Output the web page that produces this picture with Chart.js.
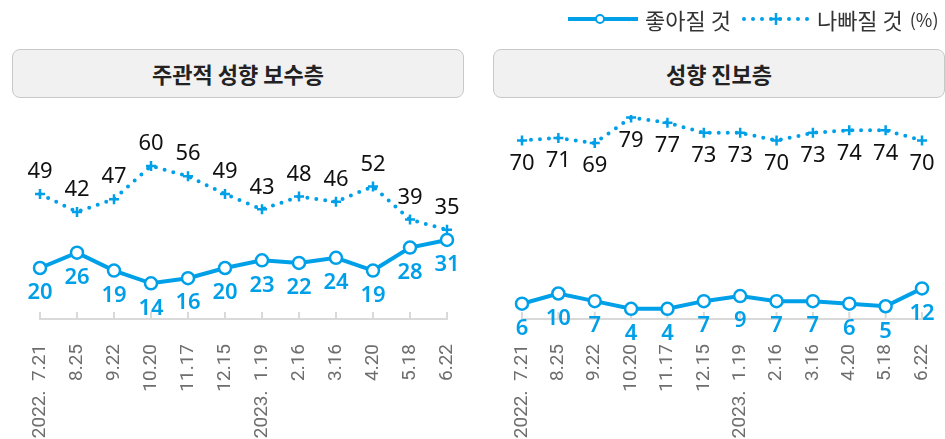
<!DOCTYPE html>
<html>
<head>
<meta charset="utf-8">
<style>
  body { margin: 0; background: #fff; width: 945px; height: 439px; position: relative; overflow: hidden; font-family: "Noto Sans CJK KR", "Noto Sans", sans-serif; }
  canvas { position: absolute; top: 0; }
  .head { position: absolute; top: 49px; height: 47px; border: 1px solid #c8c8c8; border-radius: 8px; background: #f1f1f1;
          font-weight: bold; font-size: 22px; color: #222; text-align: center; line-height: 46px; z-index: 2; }
  .legend { position: absolute; top: 3px; left: 567px; height: 32px; display: flex; align-items: center; color: #333; font-size: 22px; z-index: 2; white-space: nowrap; }
  .legend svg { display: block; margin-right: 6px; }
  .legend .pct { font-size: 18px; margin-left: 7px; }
</style>
</head>
<body>
<div class="legend">
  <svg width="72" height="14"><line x1="1" y1="7" x2="71" y2="7" stroke="#00a0e9" stroke-width="4"/><circle cx="33" cy="7" r="4" fill="#fff" stroke="#00a0e9" stroke-width="2"/></svg>
  <span>좋아질 것</span>
  <svg width="70" height="14" style="margin-left:10px"><line x1="3" y1="7" x2="68" y2="7" stroke="#00a0e9" stroke-width="4" stroke-dasharray="0 9" stroke-linecap="round"/><path d="M29 7 H41 M35 1 V13" stroke="#00a0e9" stroke-width="2.5"/></svg>
  <span>나빠질 것</span><span class="pct">(%)</span>
</div>
<div class="head" style="left:12px;width:450px">주관적 성향 보수층</div>
<div class="head" style="left:493px;width:450px">성향 진보층</div>
<canvas id="chart_cons" width="472" height="439" style="left:0"></canvas>
<canvas id="chart_prog" width="470" height="439" style="left:475px"></canvas>

<script src="https://cdn.jsdelivr.net/npm/chart.js"></script>
<script>
    const dates = ['2022.  7.21', '8.25', '9.22', '10.20', '11.17', '12.15', '2023.  1.19', '2.16', '3.16', '4.20', '5.18', '6.22'];

    // 주관적 성향 보수층
    const cons_better = [20, 26, 19, 14, 16, 20, 23, 22, 24, 19, 28, 31];
    const cons_worse = [49, 42, 47, 60, 56, 49, 43, 48, 46, 52, 39, 35];

    // 성향 진보층
    const prog_better = [6, 10, 7, 4, 4, 7, 9, 7, 7, 6, 5, 12];
    const prog_worse = [70, 71, 69, 79, 77, 73, 73, 70, 73, 74, 74, 70];

    const blue = '#00a0e9';

    const pointLabels = {
        id: 'pointLabels',
        afterDatasetsDraw(chart) {
            const ctx = chart.ctx;
            chart.data.datasets.forEach((ds, i) => {
                const meta = chart.getDatasetMeta(i);
                ctx.save();
                ctx.font = ds.labelFont;
                ctx.fillStyle = ds.labelColor;
                ctx.textAlign = 'center';
                ctx.textBaseline = 'middle';
                meta.data.forEach((pt, j) => {
                    ctx.fillText(ds.data[j], pt.x, pt.y + ds.labelOffset);
                });
                ctx.restore();
            });
        }
    };

    // small tick marks pointing up from the axis line
    const upTicks = {
        id: 'upTicks',
        beforeDatasetsDraw(chart) {
            const ctx = chart.ctx;
            const x = chart.scales.x;
            ctx.save();
            ctx.strokeStyle = '#d9d9d9';
            ctx.lineWidth = 2;
            x.ticks.forEach((t, i) => {
                const px = x.getPixelForTick(i);
                ctx.beginPath();
                ctx.moveTo(px, x.top);
                ctx.lineTo(px, x.top - 7);
                ctx.stroke();
            });
            ctx.restore();
        }
    };

    function makeChart(id, better, worse, padLeft, padRight, worseOffset) {
        return new Chart(document.getElementById(id), {
            type: 'line',
            data: {
                labels: dates,
                datasets: [{
                    label: '좋아질 것',
                    data: better,
                    borderColor: blue,
                    borderWidth: 4,
                    pointStyle: 'circle',
                    pointRadius: 6,
                    pointBorderWidth: 2.5,
                    pointBackgroundColor: '#fff',
                    pointBorderColor: blue,
                    labelFont: '600 22px "Noto Sans"',
                    labelColor: blue,
                    labelOffset: 25,
                }, {
                    label: '나빠질 것',
                    data: worse,
                    borderColor: blue,
                    borderWidth: 4,
                    borderDash: [0, 9],
                    borderCapStyle: 'round',
                    pointStyle: 'cross',
                    pointRadius: 5,
                    pointBorderWidth: 2.5,
                    pointBorderColor: blue,
                    labelFont: '22px "Noto Sans"',
                    labelColor: '#111',
                    labelOffset: worseOffset,
                }]
            },
            options: {
                responsive: false,
                animation: false,
                layout: {
                    padding: { top: 115, left: padLeft, right: padRight, bottom: 0 }
                },
                plugins: {
                    legend: { display: false },
                    tooltip: { enabled: false }
                },
                scales: {
                    x: {
                        offset: false,
                        grid: { display: false },
                        border: { display: true, color: '#d9d9d9', width: 2 },
                        ticks: {
                            color: '#6e6e6e',
                            font: { family: 'Roboto', size: 19 },
                            minRotation: 90,
                            maxRotation: 90,
                            autoSkip: false,
                            padding: 17
                        },
                        afterFit(scale) {
                            scale.height = 120;
                            scale.paddingLeft = 0;
                            scale.paddingRight = 0;
                        }
                    },
                    y: {
                        display: false,
                        min: 0,
                        max: 80
                    }
                }
            },
            plugins: [pointLabels, upTicks]
        });
    }

    const chart_cons = makeChart('chart_cons', cons_better, cons_worse, 40, 25, -22);
    const chart_prog = makeChart('chart_prog', prog_better, prog_worse, 47, 23, 23);
</script>
</body>
</html>
